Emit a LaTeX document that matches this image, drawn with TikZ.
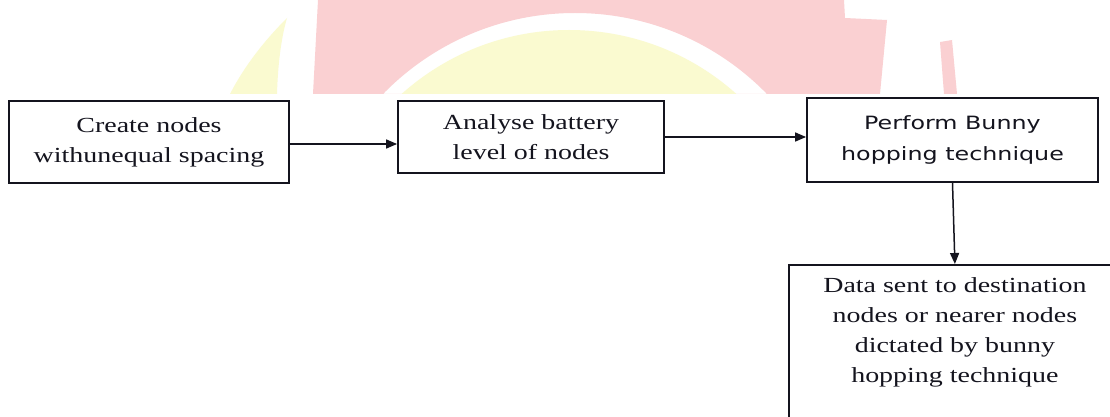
\documentclass[tikz,border=0pt]{standalone}
\usepackage{fontspec}
\setmainfont{Liberation Serif}
\newfontfamily\serifx[FakeStretch=1.3]{Liberation Serif}
\newfontfamily\sansx[FakeStretch=1.3]{DejaVu Sans}
\usetikzlibrary{arrows.meta,calc}
\definecolor{wmpink}{RGB}{250,208,210}
\definecolor{wmyellow}{RGB}{250,250,208}
\definecolor{ink}{RGB}{20,20,30}
\begin{document}
\begin{tikzpicture}[x=1pt,y=-1pt,
  box/.style={draw=ink, line width=1.8pt, align=center, inner sep=0pt},
  stxt/.style={font=\serifx\fontsize{21.5}{30}\selectfont, text=ink},
  sans/.style={font=\sansx\fontsize{18.3}{31}\selectfont, text=ink},
  arr/.style={draw=ink, line width=1.5pt, -{Triangle[length=11pt,width=9pt]}}]
\path[use as bounding box] (0,0) rectangle (1110,417);
\fill[white] (0,0) rectangle (1110,417);
% watermark
\begin{scope}
\clip (0,0) rectangle (1110,94);
\fill[wmpink, even odd rule] (318,0) -- (844,0) -- (845,18) -- (887,20) -- (880,94) -- (313,94) -- cycle
  (575,281) circle[radius=268pt];
\fill[wmpink] (940,42) -- (952,40) -- (957,94) -- (944,94) -- cycle;
\fill[wmyellow] (569,281) circle[radius=251pt];
\fill[wmyellow] (287,18) .. controls (265,40) and (245,65) .. (230,94) -- (277,94) .. controls (278,60) and (282,35) .. (287,18) -- cycle;
\end{scope}
% boxes
\node[box, stxt, minimum width=280pt, minimum height=82pt] (b1) at (149,142) {Create nodes\\withunequal spacing};
\node[box, stxt, minimum width=266pt, minimum height=72pt] (b2) at (531,137) {Analyse battery\\level of nodes};
\node[box, sans, minimum width=291pt, minimum height=84pt] (b3) at (952.5,140) {Perform Bunny\\hopping technique};
\node[box, anchor=north west, minimum width=332pt, minimum height=200pt] (b4) at (788,264) {};
\node[stxt, align=center, anchor=north, inner sep=0pt] (b4t) at ($(b4.north)+(0,13)$) {Data sent to destination\\nodes or nearer nodes\\dictated by bunny\\hopping technique};
% connectors
\draw[arr] ([yshift=-2pt]b1.east) -- ([yshift=-2pt]b1.east -| b2.west);
\draw[arr] (b2.east) -- (b2.east -| b3.west);
\draw[arr] (b3.south) -- (b4.north);
\end{tikzpicture}
\end{document}
